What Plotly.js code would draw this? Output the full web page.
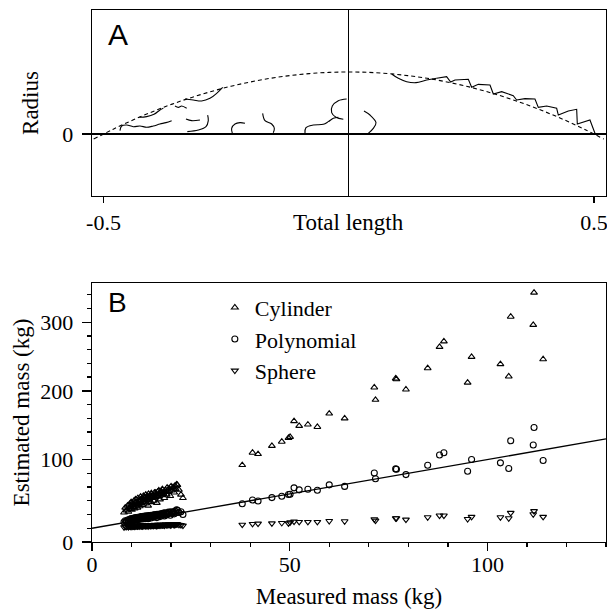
<!DOCTYPE html>
<html>
<head>
<meta charset="utf-8">
<script src="https://cdn.plot.ly/plotly-3.0.1.min.js"></script>
<style>html,body{margin:0;padding:0;background:#fff;}#chart{width:607px;height:612px;}</style>
</head>
<body>
<div id="chart"></div>
<script>
// ---------- Panel A: body outline (relative length vs radius) ----------
const profileX = [-0.52,-0.48,-0.44,-0.40,-0.36,-0.32,-0.28,-0.24,-0.20,-0.16,-0.12,-0.08,-0.04,0,0.04,0.08,0.12,0.16,0.20,0.24,0.28,0.32,0.36,0.40,0.44,0.48,0.52];
const profileY = [-0.082,0.078,0.226,0.36,0.482,0.59,0.686,0.77,0.84,0.898,0.942,0.974,0.994,1,0.994,0.974,0.942,0.898,0.84,0.77,0.686,0.59,0.482,0.36,0.226,0.078,-0.082];

// curved outline fragments
const outlineX = [
 -0.4664,-0.4630,-0.4528,-0.4392,-0.4256,-0.4120,-0.3984,-0.3848,-0.3726,-0.3610,null,
 -0.4270,-0.4120,-0.3970,-0.3848,-0.3780,null,
 -0.3542,-0.3474,-0.3406,-0.3304,null,
 -0.3338,-0.3169,-0.2999,-0.2829,-0.2693,-0.2570,null,
 -0.3318,-0.3202,-0.3033,null,
 -0.2876,-0.2863,-0.2910,-0.3067,-0.3291,null,
 -0.2373,-0.2387,-0.2319,-0.2217,-0.2115,null,
 -0.1755,-0.1707,-0.1571,-0.1517,-0.1538,null,
 -0.0892,-0.0872,-0.0722,-0.0518,-0.0416,-0.0314,-0.0212,null,
 -0.0042,-0.0212,-0.0335,-0.0348,-0.0260,-0.0110,null,
 0.0311,0.0433,0.0556,0.0501,0.0399,null,
 0.0875,0.1011,0.1181,0.1371,0.1589,0.1792
];
const outlineY = [
 0.054,0.129,0.145,0.118,0.129,0.108,0.129,0.161,0.183,0.215,null,
 0.269,0.280,0.317,0.387,0.414,null,
 0.452,0.430,0.452,0.414,null,
 0.565,0.548,0.532,0.575,0.656,0.753,null,
 0.242,0.215,0.226,null,
 0.306,0.215,0.118,0.065,0.038,null,
 0.011,0.091,0.161,0.183,0.172,null,
 0.333,0.215,0.161,0.091,0.021,null,
 0.011,0.102,0.145,0.156,0.199,0.253,0.269,null,
 0.565,0.538,0.452,0.344,0.269,0.237,null,
 0.371,0.306,0.183,0.091,0.011,null,
 0.968,0.898,0.844,0.828,0.871,0.898
];
// serrated tail fragment
const tailX = [0.1792,0.1996,0.2078,0.2166,0.2438,0.2506,0.2642,0.2880,0.2948,0.3118,0.3355,0.3423,0.3593,0.3797,0.3865,0.4035,0.4239,0.4273,0.4477,0.4647,0.4660,0.4817,0.4918,0.5020];
const tailY = [0.898,0.925,0.839,0.871,0.882,0.753,0.801,0.790,0.645,0.683,0.618,0.548,0.570,0.565,0.430,0.452,0.414,0.306,0.371,0.398,0.161,0.199,0.226,0.011];

// ---------- Panel B: measured vs estimated mass (kg) ----------
const measured = [
 8.1,8.4,8.7,9.0,9.2,9.5,9.7,9.9,10.1,10.3,10.5,10.6,10.8,11.0,11.1,11.3,11.5,11.6,11.8,12.0,
 12.1,12.3,12.5,12.6,12.8,13.0,13.1,13.3,13.5,13.6,13.8,14.0,14.2,14.3,14.5,14.7,14.9,15.0,15.2,15.4,
 15.6,15.8,16.0,16.2,16.4,16.6,16.8,17.0,17.2,17.5,17.7,18.0,18.3,18.6,18.9,19.2,19.5,19.8,20.1,20.5,
 20.8,21.2,21.6,22.0,23.0,
 9.3,9.8,10.4,10.9,11.4,11.9,12.4,12.9,13.4,13.9,14.4,14.8,15.3,15.7,16.1,16.5,16.9,17.3,17.8,18.1,
 18.5,19.0,19.4,20.0,20.6,21.0,21.4,22.5,
 38.0,40.6,42.0,45.5,48.0,49.7,50.1,51.1,52.4,54.6,57.0,60.0,63.9,71.4,71.7,76.8,77.0,79.4,84.9,87.9,
 89.0,95.0,96.0,103.3,105.4,105.9,111.6,111.8,114.1
];
const cylinder = [
 23,30,26,33,24,35,28,38,27,36,31,40,29,42,33,38,30,44,35,41,
 32,46,37,43,34,47,39,44,36,49,41,46,33,50,42,48,38,51,44,47,
 40,52,45,49,37,53,46,50,42,54,48,51,44,56,49,53,58,47,55,60,
 52,57,63,56,44,
 29,31,34,37,35,39,41,38,45,43,39,46,48,45,52,47,55,49,57,50,
 53,59,54,61,58,62,64,49,
 92,110,108,120,126,131.5,133,156,149,151,147.5,167,160,205,187,218,217,202,233,264,
 272,212,249.5,239,221,308,296,343,246
];
const polynomial = [
 9,11,10,12,9.5,13,11,14,10.5,13.5,12,15,11.5,15.5,13,14,12.5,16,14,15,
 13,17,14.5,16,13.5,17.5,15,16.5,14,18,15.5,17,14,18.5,16,18,15,19,17,18,
 16,19.5,17.5,19,15.5,20,18,19.5,17,20.5,19,20,18,21.5,19.5,21,22.5,19,21.5,23,
 21,22.5,26,23,20,
 10.5,12.5,12,14,13,15.5,15,16.5,16,17.5,17,18.5,18,19.5,19,20.5,20,21,21.5,22,
 22.5,22,23.5,24,23.5,25,27,24,
 35.7,41.1,39.6,44.6,46.6,49.1,49.5,58.8,55.9,56.8,55.3,63.2,60.9,80.5,72.1,86.4,86.0,78.1,91.7,106.6,
 109.9,83.0,100.2,95.2,86.9,127.3,121.3,146.6,98.7
];
const sphere = [
 1.5,2.5,2,3,1.8,3.2,2.3,3.5,2.2,3.3,2.7,3.8,2.5,3.9,2.9,3.4,2.6,4.1,3.0,3.7,
 2.8,4.3,3.2,3.9,2.9,4.4,3.4,4.0,3.1,4.6,3.6,4.2,2.9,4.7,3.7,4.4,3.3,4.8,3.9,4.3,
 3.5,4.9,4.0,4.5,3.2,5.0,4.1,4.6,3.7,5.1,4.3,4.7,3.9,5.3,4.5,4.9,5.5,4.2,5.0,5.6,
 4.7,5.2,5.9,5.0,3.8,
 2.6,2.9,3.1,3.5,3.3,3.8,3.6,4.0,4.2,3.9,4.4,4.1,4.6,4.3,4.8,4.5,4.9,5.0,4.6,5.2,
 5.4,4.9,5.3,5.7,5.4,5.8,6.1,4.5,
 5.2,6.3,6.7,7.1,7.7,7.1,8.5,9.6,9.2,9.2,9.2,10.6,10.2,13.1,11.1,14.6,14.6,12.5,16,18.5,
 18.5,13.5,16.6,16,14.6,22.4,20.4,24.9,16.6
];
// 1:1 reference line
const refLine = [0, 130];

const seriesNames = ['Cylinder', 'Polynomial', 'Sphere'];
const yTickVals = [-20, 100, 200, 300];
const yTickText = ['0', '100', '200', '300'];

const serif = 'Liberation Serif';
const sans = 'Liberation Sans';
const black = '#000';

const traces = [
  {x: profileX, y: profileY, xaxis: 'x', yaxis: 'y', mode: 'lines', line: {color: black, width: 1.1, dash: '4px,3px', shape: 'spline'}, showlegend: false, hoverinfo: 'skip'},
  {x: outlineX, y: outlineY, xaxis: 'x', yaxis: 'y', mode: 'lines', connectgaps: false, line: {color: black, width: 1.1, shape: 'spline'}, showlegend: false, hoverinfo: 'skip'},
  {x: tailX, y: tailY, xaxis: 'x', yaxis: 'y', mode: 'lines', line: {color: black, width: 1.1}, showlegend: false, hoverinfo: 'skip'},
  {x: refLine, y: refLine, xaxis: 'x2', yaxis: 'y2', mode: 'lines', line: {color: black, width: 1.3}, showlegend: false, hoverinfo: 'skip'},
  {x: measured, y: cylinder, xaxis: 'x2', yaxis: 'y2', mode: 'markers', name: seriesNames[0], marker: {symbol: 'triangle-up-open', size: 6, color: black, line: {width: 1.1, color: black}}},
  {x: measured, y: polynomial, xaxis: 'x2', yaxis: 'y2', mode: 'markers', name: seriesNames[1], marker: {symbol: 'circle-open', size: 6, color: black, line: {width: 1.1, color: black}}},
  {x: measured, y: sphere, xaxis: 'x2', yaxis: 'y2', mode: 'markers', name: seriesNames[2], marker: {symbol: 'triangle-down-open', size: 6, color: black, line: {width: 1.1, color: black}}}
];

const tickFont = {family: serif, size: 22, color: black};
const titleFont = {family: serif, size: 23, color: black};
const axisBase = {showgrid: false, showline: true, linecolor: black, linewidth: 1.3, mirror: true, ticks: 'outside', tickcolor: black, tickwidth: 1.3, tickfont: tickFont, ticklabeloverflow: 'allow'};

const layout = {
  width: 607, height: 612,
  margin: {l: 92, r: 1, t: 10, b: 70},
  paper_bgcolor: '#fff', plot_bgcolor: '#fff',
  font: {family: serif, size: 22, color: black},
  xaxis: Object.assign({}, axisBase, {domain: [0, 1], anchor: 'y', range: [-0.5234, 0.5245], tickmode: 'array', tickvals: [-0.5, 0.5], ticktext: ['-0.5', '0.5'], ticklen: 6, zeroline: true, zerolinecolor: black, zerolinewidth: 1.3}),
  yaxis: Object.assign({}, axisBase, {domain: [0.6504, 1], anchor: 'x', range: [-1, 2], tickmode: 'array', tickvals: [0], ticktext: ['0'], ticklen: 9, zeroline: true, zerolinecolor: black, zerolinewidth: 1.3, ticklabelstandoff: 4,
    title: {text: 'Radius', font: titleFont, standoff: 17}}),
  xaxis2: Object.assign({}, axisBase, {domain: [0, 1], anchor: 'y2', range: [0, 130], tickmode: 'array', tickvals: [0, 50, 100], ticklen: 8, zeroline: false, ticklabelstandoff: -6,
    minor: {tickmode: 'linear', tick0: 0, dtick: 10, ticks: 'outside', ticklen: 4, tickcolor: black, tickwidth: 1.3},
    title: {text: 'Measured mass (kg)', font: titleFont, standoff: 12}}),
  yaxis2: Object.assign({}, axisBase, {domain: [0, 0.4868], anchor: 'x2', range: [-20, 357], tickmode: 'array', tickvals: yTickVals, ticktext: yTickText, ticklen: 9, zeroline: false, ticklabelstandoff: 4,
    minor: {tickmode: 'linear', tick0: 0, dtick: 20, ticks: 'outside', ticklen: 4, tickcolor: black, tickwidth: 1.3},
    title: {text: 'Estimated mass (kg)', font: titleFont, standoff: 4}}),
  showlegend: true,
  legend: {x: 0.239, y: 0.48, xanchor: 'left', yanchor: 'top', xref: 'paper', yref: 'paper', bgcolor: 'rgba(0,0,0,0)', font: {family: serif, size: 22, color: black}, itemwidth: 30, tracegroupgap: 0},
  annotations: [
    {text: 'A', xref: 'paper', yref: 'paper', x: 0.028, y: 0.988, xanchor: 'left', yanchor: 'top', showarrow: false, font: {family: sans, size: 30, color: black}},
    {text: 'B', xref: 'paper', yref: 'paper', x: 0.028, y: 0.483, xanchor: 'left', yanchor: 'top', showarrow: false, font: {family: sans, size: 28, color: black}},
    {text: 'Total length', xref: 'x', yref: 'paper', x: 0, y: 0.6504, xanchor: 'center', yanchor: 'top', yshift: -12, showarrow: false, font: titleFont}
  ]
};

Plotly.newPlot('chart', traces, layout, {displayModeBar: false, staticPlot: true});
</script>
</body>
</html>
